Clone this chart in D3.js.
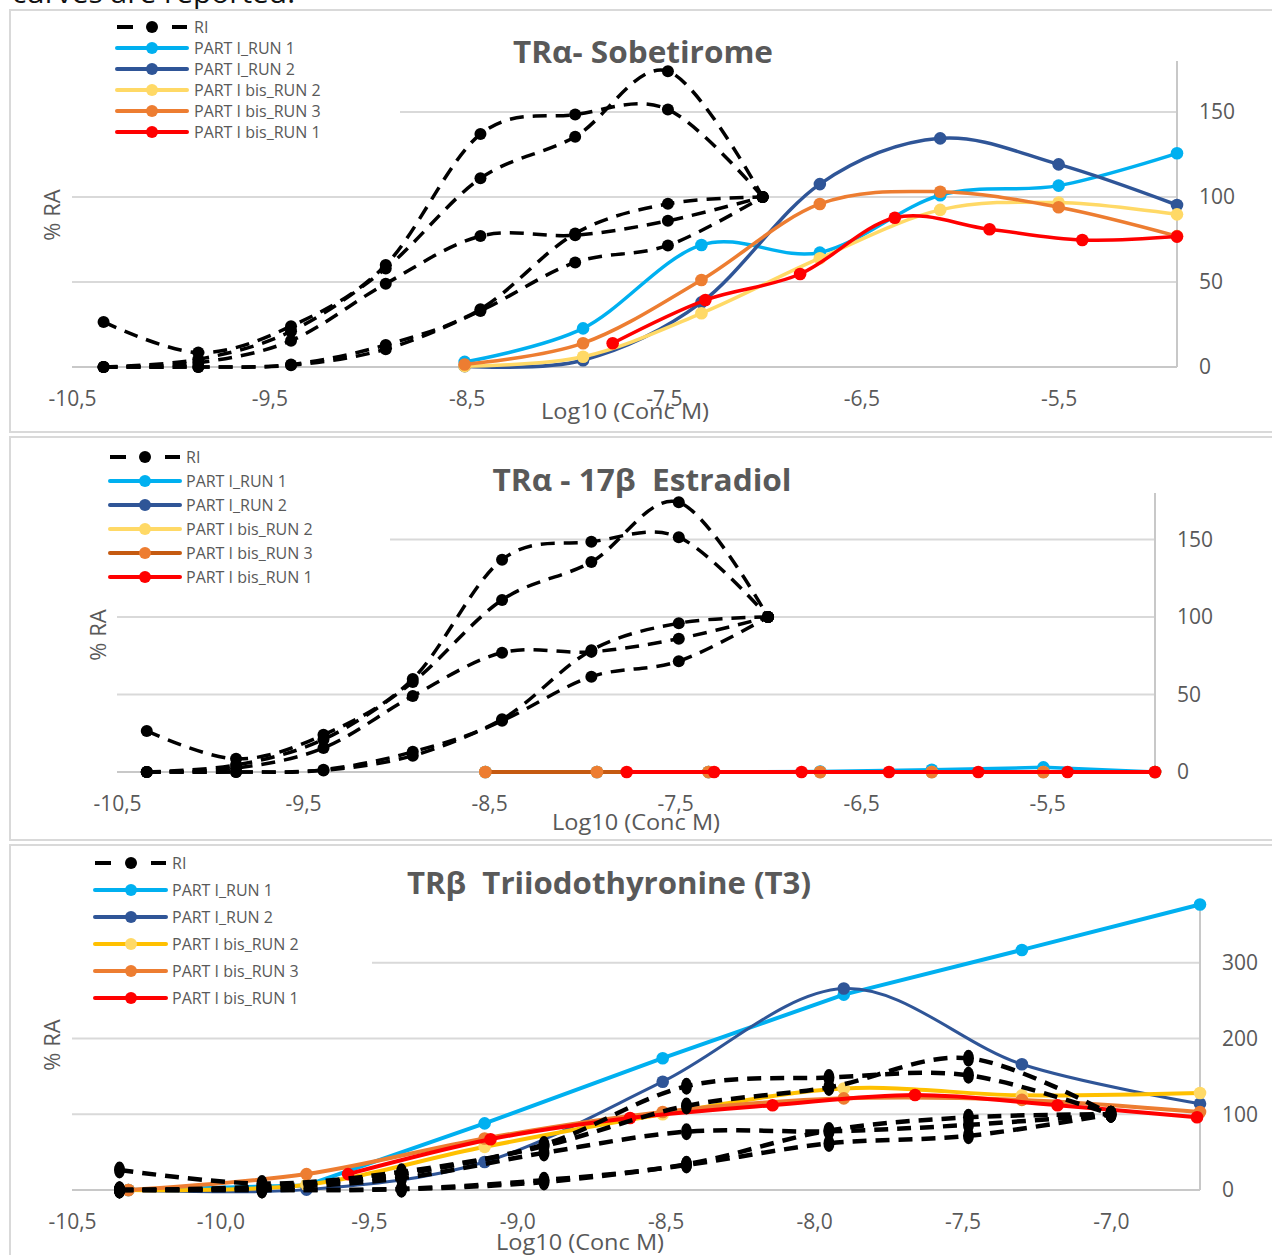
<!DOCTYPE html>
<html>
<head>
<meta charset="utf-8">
<script src="https://cdn.jsdelivr.net/npm/d3@7"></script>
<style>
  body { margin: 0; background: #fff; }
  svg { display: block; }
  text { font-family: "Open Sans", "DejaVu Sans", sans-serif; }
</style>
</head>
<body>
<svg id="chart" width="1272" height="1255"></svg>
<script>
// ---------- Reference inhibitor (RI) curves, shared by the three assays ----------
const riLogConc = [-10.34, -9.86, -9.39, -8.91, -8.43, -7.95, -7.48, -7.00];
const riCurveA = [26.5, 8.5, 24, 60, 137, 148.5, 151.5, 100];
const riCurveB = [0, 4.5, 21, 58, 111, 135.5, 174, 100];
const riCurveC = [0, 2.5, 15.5, 49, 77, 77.5, 86, 100];
const riCurveD = [0, 0, 1.5, 13, 34, 78.5, 96, 100];
const riCurveE = [0, 0, 1, 10.5, 33, 61.5, 71.5, 100];

// ---------- TRα – Sobetirome ----------
const sobLogConc = [-8.51, -7.91, -7.31, -6.71, -6.10, -5.50, -4.90];
const sobBisRun1LogConc = [-7.76, -7.29, -6.81, -6.33, -5.85, -5.38, -4.90];
const sobPart1Run1 = [3, 22.7, 71.8, 67.3, 101, 106.7, 125.7];
const sobPart1Run2 = [0.5, 4, 38, 107.6, 134.5, 119.2, 95.3];
const sobBisRun2 = [0.5, 6, 31.6, 64, 92.4, 96.7, 89.8];
const sobBisRun3 = [1.5, 14, 51.2, 95.9, 103.1, 94, 77];
const sobBisRun1 = [14, 39.4, 54.7, 87.8, 81, 74.7, 76.7];

// ---------- TRα – 17β Estradiol ----------
const e2LogConc = [-8.52, -7.92, -7.32, -6.72, -6.12, -5.52, -4.92];
const e2BisRun1LogConc = [-7.76, -7.29, -6.82, -6.35, -5.87, -5.39, -4.92];
const e2Part1Run1 = [0, 0, 0, 0.3, 1.5, 3, 0];
const e2Part1Run2 = [0, 0, 0, 0, 0, 0, 0];
const e2BisRun2 = [0, 0, 0, 0, 0, 0, 0];
const e2BisRun3 = [0, 0, 0, 0, 0, 0, 0];
const e2BisRun1 = [0, 0, 0, 0, 0, 0, 0];

// ---------- TRβ – Triiodothyronine (T3) ----------
const t3LogConc = [-10.31, -9.71, -9.11, -8.51, -7.90, -7.30, -6.70];
const t3BisRun1LogConc = [-9.57, -9.09, -8.62, -8.14, -7.66, -7.18, -6.71];
const t3Part1Run1 = [0, 6, 88, 174, 258, 317, 377];
const t3Part1Run2 = [0, 0.5, 37, 143, 266, 166, 114];
const t3BisRun2 = [0, 7, 57, 100, 134, 125, 128];
const t3BisRun3 = [0, 21, 68, 103, 121, 119, 103];
const t3BisRun1 = [21, 67, 95, 112, 125.5, 112, 96];

// ---------- Labels ----------
const seriesNames = ["RI", "PART I_RUN 1", "PART I_RUN 2", "PART I bis_RUN 2", "PART I bis_RUN 3", "PART I bis_RUN 1"];
const ticksX1 = [-10.5, -9.5, -8.5, -7.5, -6.5, -5.5];
const ticksX3 = [-10.5, -10.0, -9.5, -9.0, -8.5, -8.0, -7.5, -7.0];
const ticksY1 = [0, 50, 100, 150];
const ticksY3 = [0, 100, 200, 300];

const riCurves = [riCurveA, riCurveB, riCurveC, riCurveD, riCurveE];
const zip = (xs, ys) => xs.map((v, i) => [v, ys[i]]);
const commaFmt = d => d3.format(".1f")(d).replace(".", ",").replace("−", "-");

const GREY_TEXT = "#595959";
const svg = d3.select("#chart");

// clipped caption line above the first chart
svg.append("text")
  .attr("x", 12).attr("y", 3)
  .attr("font-size", 28).attr("fill", "#111")
  .attr("textLength", 283).attr("lengthAdjust", "spacingAndGlyphs")
  .text("curves are reported.");

function drawPanel(p) {
  const g = svg.append("g");

  g.append("rect")
    .attr("x", p.frame[0]).attr("y", p.frame[1])
    .attr("width", p.frame[2] - p.frame[0]).attr("height", p.frame[3] - p.frame[1])
    .attr("fill", "#fff").attr("stroke", "#D9D9D9").attr("stroke-width", 2);

  const x = d3.scaleLinear().domain(p.xDomain).range(p.xRange);
  const y = d3.scaleLinear().domain(p.yDomain).range(p.yRange);
  const yMaxTick = d3.max(p.yTicks);

  // horizontal gridlines (top one is hidden behind the legend box on the left)
  g.selectAll("line.grid").data(p.yTicks.filter(t => t > 0)).enter().append("line")
    .attr("x1", t => t === yMaxTick ? p.legendRight : p.xRange[0])
    .attr("x2", p.xRange[1])
    .attr("y1", t => y(t)).attr("y2", t => y(t))
    .attr("stroke", "#D9D9D9").attr("stroke-width", 2);

  // baseline and right-hand value axis
  g.append("line")
    .attr("x1", p.xRange[0]).attr("x2", p.xRange[1])
    .attr("y1", y(0)).attr("y2", y(0))
    .attr("stroke", "#C8C8C8").attr("stroke-width", 2);
  g.append("line")
    .attr("x1", p.xRange[1]).attr("x2", p.xRange[1])
    .attr("y1", y(p.yDomain[1])).attr("y2", y(0))
    .attr("stroke", "#C8C8C8").attr("stroke-width", 2);

  const xAxis = g.append("g").attr("transform", `translate(0,${y(0)})`)
    .call(d3.axisBottom(x).tickValues(p.xTicks).tickFormat(commaFmt).tickSize(0).tickPadding(24));
  const yAxis = g.append("g").attr("transform", `translate(${p.xRange[1]},0)`)
    .call(d3.axisRight(y).tickValues(p.yTicks).tickFormat(d3.format("d")).tickSize(0).tickPadding(22));
  [xAxis, yAxis].forEach(a => {
    a.select(".domain").remove();
    a.selectAll("text").attr("font-size", 21).attr("fill", GREY_TEXT)
      .attr("font-family", '"Open Sans", sans-serif');
  });

  // axis titles
  g.append("text")
    .attr("x", p.xTitle[0]).attr("y", p.xTitle[1])
    .attr("text-anchor", "middle").attr("font-size", 21).attr("fill", GREY_TEXT)
    .attr("textLength", 168).attr("lengthAdjust", "spacingAndGlyphs")
    .text("Log10 (Conc M)");
  g.append("text")
    .attr("transform", `translate(${p.yTitle[0]},${p.yTitle[1]}) rotate(-90)`)
    .attr("text-anchor", "middle").attr("dy", "0.35em")
    .attr("font-size", 22).attr("fill", GREY_TEXT)
    .text("% RA");

  // legend background
  g.append("rect")
    .attr("x", p.frame[0] + 2).attr("y", p.frame[1] + 4)
    .attr("width", p.legendRight - p.frame[0] - 2).attr("height", p.legendBottom - p.frame[1] - 4)
    .attr("fill", "#fff");

  // colored runs
  p.series.forEach(s => {
    const pts = zip(s.xs, s.ys);
    const line = d3.line().x(d => x(d[0])).y(d => y(d[1]))
      .curve(s.smooth ? d3.curveCatmullRom.alpha(0) : d3.curveLinear);
    g.append("path").attr("d", line(pts))
      .attr("fill", "none").attr("stroke", s.line).attr("stroke-width", s.width || 3.5)
      .attr("stroke-linejoin", "round").attr("stroke-linecap", "round");
    g.selectAll(null).data(pts).enter().append("circle")
      .attr("cx", d => x(d[0])).attr("cy", d => y(d[1])).attr("r", 6.3)
      .attr("fill", s.marker);
  });

  // RI curves (dashed, on top)
  const riLine = d3.line().x(d => x(d[0])).y(d => y(d[1])).curve(d3.curveCatmullRom.alpha(0));
  riCurves.forEach(c => {
    const pts = zip(riLogConc, c);
    g.append("path").attr("d", riLine(pts))
      .attr("fill", "none").attr("stroke", "#000").attr("stroke-width", p.riWidth)
      .attr("stroke-dasharray", p.riDash);
    g.selectAll(null).data(pts).enter().append("ellipse")
      .attr("cx", d => x(d[0])).attr("cy", d => y(d[1]))
      .attr("rx", p.riMarker[0]).attr("ry", p.riMarker[1])
      .attr("fill", "#000");
  });

  // title
  g.append("text")
    .attr("x", p.title.x).attr("y", p.title.y)
    .attr("text-anchor", "middle").attr("font-size", 30).attr("font-weight", "bold")
    .attr("fill", GREY_TEXT).style("white-space", "pre")
    .attr("textLength", p.title.w).attr("lengthAdjust", "spacingAndGlyphs")
    .text(p.title.text);

  // legend entries
  const L = p.legend;
  seriesNames.forEach((name, i) => {
    const yy = L.y0 + i * L.step;
    const lg = g.append("g");
    if (i === 0) {
      lg.append("line").attr("x1", L.x1).attr("x2", L.x1 + 16).attr("y1", yy).attr("y2", yy)
        .attr("stroke", "#000").attr("stroke-width", 4);
      lg.append("line").attr("x1", L.x2 - 15).attr("x2", L.x2).attr("y1", yy).attr("y2", yy)
        .attr("stroke", "#000").attr("stroke-width", 4);
      lg.append("circle").attr("cx", L.xm).attr("cy", yy).attr("r", 6).attr("fill", "#000");
    } else {
      const s = p.series[i - 1];
      lg.append("line").attr("x1", L.x1).attr("x2", L.x2).attr("y1", yy).attr("y2", yy)
        .attr("stroke", s.legendLine || s.line).attr("stroke-width", 4).attr("stroke-linecap", "round");
      lg.append("circle").attr("cx", L.xm).attr("cy", yy).attr("r", 6).attr("fill", s.marker);
    }
    lg.append("text").attr("x", L.xt).attr("y", yy).attr("dy", "0.36em")
      .attr("font-size", 16).attr("fill", GREY_TEXT)
      .text(name);
  });
}

const LIGHT_BLUE = "#00B0F0", DARK_BLUE = "#2F5597", YELLOW = "#FFD966",
      GOLD = "#FFC000", ORANGE = "#ED7D31", BROWN = "#C55A11", RED = "#FF0000";

drawPanel({
  frame: [10, 10, 1280, 432],
  xDomain: [-10.5, -4.9], xRange: [72, 1177],
  yDomain: [0, 180], yRange: [367, 61],
  xTicks: ticksX1, yTicks: ticksY1,
  legendRight: 400, legendBottom: 142,
  xTitle: [625, 419], yTitle: [52, 215],
  riWidth: 3.5, riDash: "14,9", riMarker: [6, 6],
  title: { text: "TRα- Sobetirome", x: 643, y: 63, w: 260 },
  legend: { x1: 117, x2: 187, xm: 152, xt: 194, y0: 27, step: 21 },
  series: [
    { xs: sobLogConc, ys: sobPart1Run1, line: LIGHT_BLUE, marker: LIGHT_BLUE, smooth: true },
    { xs: sobLogConc, ys: sobPart1Run2, line: DARK_BLUE, marker: DARK_BLUE, smooth: true },
    { xs: sobLogConc, ys: sobBisRun2, line: YELLOW, marker: YELLOW, smooth: true },
    { xs: sobLogConc, ys: sobBisRun3, line: ORANGE, marker: ORANGE, smooth: true },
    { xs: sobBisRun1LogConc, ys: sobBisRun1, line: RED, marker: RED, smooth: true }
  ]
});

drawPanel({
  frame: [10, 437, 1280, 840],
  xDomain: [-10.5, -4.92], xRange: [117, 1155],
  yDomain: [0, 180], yRange: [772, 493],
  xTicks: ticksX1, yTicks: ticksY1,
  legendRight: 390, legendBottom: 592,
  xTitle: [636, 830], yTitle: [98, 635],
  riWidth: 3.5, riDash: "14,9", riMarker: [6, 6],
  title: { text: "TRα - 17β  Estradiol", x: 642, y: 491, w: 299 },
  legend: { x1: 110, x2: 180, xm: 145, xt: 186, y0: 457, step: 24 },
  series: [
    { xs: e2LogConc, ys: e2Part1Run1, line: LIGHT_BLUE, marker: LIGHT_BLUE, smooth: false },
    { xs: e2LogConc, ys: e2Part1Run2, line: DARK_BLUE, marker: DARK_BLUE, smooth: false },
    { xs: e2LogConc, ys: e2BisRun2, line: YELLOW, marker: YELLOW, smooth: false },
    { xs: e2LogConc, ys: e2BisRun3, line: BROWN, marker: ORANGE, smooth: false, width: 4 },
    { xs: e2BisRun1LogConc, ys: e2BisRun1, line: RED, marker: RED, smooth: false, width: 4 }
  ]
});

drawPanel({
  frame: [10, 845, 1280, 1262],
  xDomain: [-10.5, -6.7], xRange: [72, 1200],
  yDomain: [0, 375], yRange: [1190, 906],
  xTicks: ticksX3, yTicks: ticksY3,
  legendRight: 372, legendBottom: 1012,
  xTitle: [580, 1250], yTitle: [52, 1045],
  riWidth: 4.5, riDash: "14,9", riMarker: [5.5, 8.5],
  title: { text: "TRβ  Triiodothyronine (T3)", x: 609, y: 894, w: 404 },
  legend: { x1: 95, x2: 166, xm: 131, xt: 172, y0: 863, step: 27 },
  series: [
    { xs: t3LogConc, ys: t3Part1Run1, line: LIGHT_BLUE, marker: LIGHT_BLUE, smooth: false, width: 4 },
    { xs: t3LogConc, ys: t3Part1Run2, line: DARK_BLUE, marker: DARK_BLUE, smooth: true, width: 3 },
    { xs: t3LogConc, ys: t3BisRun2, line: GOLD, marker: YELLOW, smooth: true, width: 4 },
    { xs: t3LogConc, ys: t3BisRun3, line: ORANGE, marker: ORANGE, smooth: true, width: 4 },
    { xs: t3BisRun1LogConc, ys: t3BisRun1, line: RED, marker: RED, smooth: true, width: 4 }
  ]
});
</script>
</body>
</html>
